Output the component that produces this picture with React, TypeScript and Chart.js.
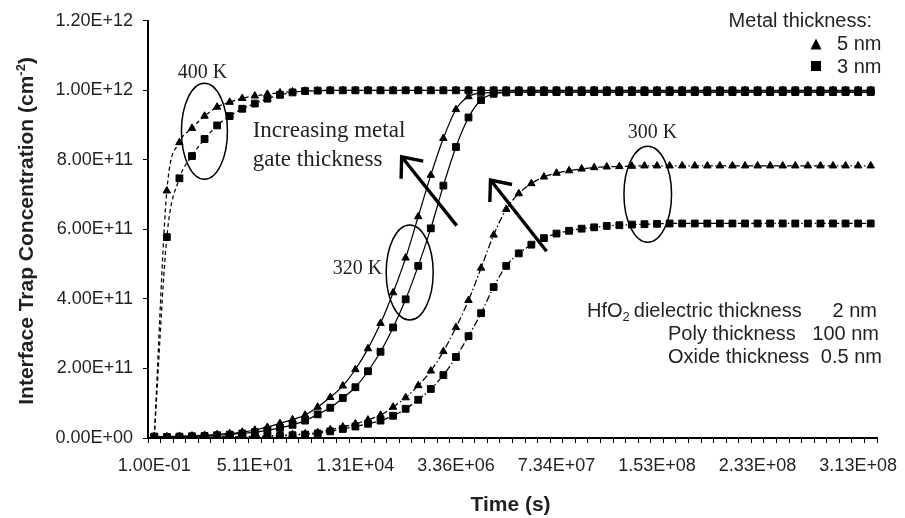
import React, { useEffect, useRef } from 'react';
import { Chart, registerables } from 'chart.js';

Chart.register(...registerables);

// Elapsed stress time (s), one category per sample
const timeLabels = [
  '1.00E-01', '3.00E-01', '7.00E-01', '1.50E+00', '3.10E+00', '6.30E+00', '1.27E+01', '2.55E+01',
  '5.11E+01', '1.02E+02', '2.05E+02', '4.10E+02', '8.19E+02', '1.64E+03', '3.28E+03', '6.55E+03',
  '1.31E+04', '2.62E+04', '5.24E+04', '1.05E+05', '2.10E+05', '4.19E+05', '8.39E+05', '1.68E+06',
  '3.36E+06', '6.71E+06', '1.34E+07', '2.34E+07', '3.34E+07', '4.34E+07', '5.34E+07', '6.34E+07',
  '7.34E+07', '8.34E+07', '9.34E+07', '1.03E+08', '1.13E+08', '1.23E+08', '1.33E+08', '1.43E+08',
  '1.53E+08', '1.63E+08', '1.73E+08', '1.83E+08', '1.93E+08', '2.03E+08', '2.13E+08', '2.23E+08',
  '2.33E+08', '2.43E+08', '2.53E+08', '2.63E+08', '2.73E+08', '2.83E+08', '2.93E+08', '3.03E+08',
  '3.13E+08', '3.23E+08',
];
const LABEL_EVERY = 8;

// Interface trap concentration, in units of 1E+12 cm^-2
const UNIT = 1e12;

const t400Metal5 = [
  0.005, 0.711, 0.850, 0.891, 0.926, 0.952, 0.966, 0.977, 0.984, 0.989, 0.993, 0.996, 0.998, 0.999,
  1.000, 1.000, 1.000, 1.000, 1.000, 1.000, 1.000, 1.000, 1.000, 1.000, 1.000, 1.000, 1.000, 1.000,
  1.000, 1.000, 1.000, 1.000, 1.000, 1.000, 1.000, 1.000, 1.000, 1.000, 1.000, 1.000, 1.000, 1.000,
  1.000, 1.000, 1.000, 1.000, 1.000, 1.000, 1.000, 1.000, 1.000, 1.000, 1.000, 1.000, 1.000, 1.000,
  1.000, 1.000,
];
const t400Metal3 = [
  0.004, 0.578, 0.747, 0.811, 0.860, 0.899, 0.926, 0.947, 0.962, 0.976, 0.987, 0.994, 0.998, 0.999,
  1.000, 1.000, 1.000, 1.000, 1.000, 1.000, 1.000, 1.000, 1.000, 1.000, 1.000, 1.000, 1.000, 1.000,
  1.000, 1.000, 1.000, 1.000, 1.000, 1.000, 1.000, 1.000, 1.000, 1.000, 1.000, 1.000, 1.000, 1.000,
  1.000, 1.000, 1.000, 1.000, 1.000, 1.000, 1.000, 1.000, 1.000, 1.000, 1.000, 1.000, 1.000, 1.000,
  1.000, 1.000,
];
const t320Metal5 = [
  0.003, 0.004, 0.005, 0.006, 0.008, 0.010, 0.013, 0.017, 0.023, 0.031, 0.042, 0.053, 0.066, 0.089,
  0.117, 0.150, 0.197, 0.257, 0.330, 0.418, 0.518, 0.637, 0.756, 0.862, 0.945, 0.982, 0.992, 0.994,
  0.995, 0.995, 0.995, 0.995, 0.995, 0.995, 0.995, 0.995, 0.995, 0.995, 0.995, 0.995, 0.995, 0.995,
  0.995, 0.995, 0.995, 0.995, 0.995, 0.995, 0.995, 0.995, 0.995, 0.995, 0.995, 0.995, 0.995, 0.995,
  0.995, 0.995,
];
const t320Metal3 = [
  0.002, 0.003, 0.004, 0.005, 0.006, 0.008, 0.010, 0.013, 0.017, 0.022, 0.029, 0.038, 0.050, 0.068,
  0.087, 0.115, 0.146, 0.192, 0.248, 0.318, 0.399, 0.495, 0.603, 0.726, 0.837, 0.922, 0.972, 0.990,
  0.994, 0.995, 0.995, 0.995, 0.995, 0.995, 0.995, 0.995, 0.995, 0.995, 0.995, 0.995, 0.995, 0.995,
  0.995, 0.995, 0.995, 0.995, 0.995, 0.995, 0.995, 0.995, 0.995, 0.995, 0.995, 0.995, 0.995, 0.995,
  0.995, 0.995,
];
const t300Metal5 = [
  0.001, 0.001, 0.002, 0.002, 0.002, 0.003, 0.003, 0.004, 0.005, 0.006, 0.008, 0.010, 0.012, 0.016,
  0.024, 0.032, 0.041, 0.052, 0.066, 0.089, 0.116, 0.151, 0.193, 0.249, 0.318, 0.396, 0.489, 0.584,
  0.658, 0.703, 0.732, 0.751, 0.762, 0.769, 0.774, 0.778, 0.780, 0.781, 0.782, 0.783, 0.783, 0.783,
  0.783, 0.783, 0.783, 0.783, 0.783, 0.783, 0.783, 0.783, 0.783, 0.783, 0.783, 0.783, 0.783, 0.783,
  0.783, 0.783,
];
const t300Metal3 = [
  0.001, 0.001, 0.001, 0.002, 0.002, 0.002, 0.003, 0.003, 0.004, 0.005, 0.006, 0.008, 0.010, 0.013,
  0.019, 0.026, 0.033, 0.041, 0.050, 0.064, 0.084, 0.110, 0.141, 0.181, 0.233, 0.293, 0.359, 0.434,
  0.495, 0.531, 0.556, 0.575, 0.588, 0.596, 0.602, 0.606, 0.610, 0.612, 0.614, 0.615, 0.616, 0.617,
  0.617, 0.617, 0.617, 0.617, 0.617, 0.617, 0.617, 0.617, 0.617, 0.617, 0.617, 0.617, 0.617, 0.617,
  0.617, 0.617,
];

// y axis range and tick spacing (cm^-2)
const Y_MIN = 0;
const Y_MAX = 1.2e12;
const Y_STEP = 0.2e12;

const INK = '#231f20';
const SANS = "'Liberation Sans', Arial, sans-serif";
const SERIF = "'Liberation Serif', 'Times New Roman', serif";

const DASH_400 = [4, 3];
const DASH_320: number[] = [];
const DASH_300 = [7, 2.5, 1.5, 2.5];

const seriesDefs = [
  { label: '400 K, 5 nm', values: t400Metal5, shape: 'triangle', dash: DASH_400 },
  { label: '400 K, 3 nm', values: t400Metal3, shape: 'rect', dash: DASH_400 },
  { label: '320 K, 5 nm', values: t320Metal5, shape: 'triangle', dash: DASH_320 },
  { label: '320 K, 3 nm', values: t320Metal3, shape: 'rect', dash: DASH_320 },
  { label: '300 K, 5 nm', values: t300Metal5, shape: 'triangle', dash: DASH_300 },
  { label: '300 K, 3 nm', values: t300Metal3, shape: 'rect', dash: DASH_300 },
];

// Annotation anchors in data space: [category index, value in 1E+12]
const ellipses = [
  { at: [3.99, 0.882], rx: 23, ry: 48 },
  { at: [20.32, 0.476], rx: 23.5, ry: 47.5 },
  { at: [39.26, 0.701], rx: 23.8, ry: 48 },
];
const tempLabels = [
  { text: '400 K', at: [3.84, 1.052] },
  { text: '320 K', at: [16.17, 0.487] },
  { text: '300 K', at: [39.64, 0.878] },
];
const trendLines = [
  { text: 'Increasing metal', at: [7.83, 0.883] },
  { text: 'gate thickness', at: [7.83, 0.8] },
];
const arrows = [
  { tip: [19.68, 0.809], tail: [24.06, 0.611] },
  { tip: [26.75, 0.742], tail: [31.21, 0.537] },
];

function sci(v: number): string {
  if (Math.abs(v) < 1e-9) return '0.00E+00';
  const e = Math.floor(Math.log10(Math.abs(v)) + 1e-9);
  const m = v / Math.pow(10, e);
  return `${m.toFixed(2)}E${e < 0 ? '-' : '+'}${String(Math.abs(e)).padStart(2, '0')}`;
}

const notesPlugin = {
  id: 'figureNotes',
  afterDatasetsDraw(chart: any) {
    const { ctx, scales } = chart;
    const px = (i: number) => scales.x.getPixelForValue(i);
    const py = (v: number) => scales.y.getPixelForValue(v * UNIT);
    ctx.save();
    ctx.strokeStyle = '#000';
    ctx.fillStyle = INK;

    // circled groups
    ctx.lineWidth = 1.5;
    ellipses.forEach((e) => {
      ctx.beginPath();
      ctx.ellipse(px(e.at[0]), py(e.at[1]), e.rx, e.ry, 0, 0, Math.PI * 2);
      ctx.stroke();
    });

    // temperature labels
    ctx.font = `20px ${SERIF}`;
    ctx.textAlign = 'center';
    ctx.textBaseline = 'middle';
    tempLabels.forEach((t) => ctx.fillText(t.text, px(t.at[0]), py(t.at[1])));

    ctx.font = `23px ${SERIF}`;
    ctx.textAlign = 'left';
    trendLines.forEach((t) => ctx.fillText(t.text, px(t.at[0]), py(t.at[1])));

    // trend arrows
    ctx.lineWidth = 3.4;
    ctx.lineCap = 'butt';
    ctx.lineJoin = 'miter';
    arrows.forEach((a) => {
      const tx = px(a.tip[0]);
      const ty = py(a.tip[1]);
      const bx = px(a.tail[0]);
      const by = py(a.tail[1]);
      const back = Math.atan2(by - ty, bx - tx);
      const len = 22;
      const spread = (40 * Math.PI) / 180;
      ctx.beginPath();
      ctx.moveTo(bx, by);
      ctx.lineTo(tx, ty);
      ctx.stroke();
      ctx.beginPath();
      ctx.moveTo(tx + Math.cos(back + spread) * len, ty + Math.sin(back + spread) * len);
      ctx.lineTo(tx, ty);
      ctx.lineTo(tx + Math.cos(back - spread) * len, ty + Math.sin(back - spread) * len);
      ctx.stroke();
    });
    ctx.restore();
  },
  afterDraw(chart: any) {
    const { ctx, chartArea } = chart;
    ctx.save();
    ctx.fillStyle = INK;

    // y axis title with superscript
    {
      const main = 'Interface Trap Concentration (cm';
      const sup = '-2';
      const tail = ')';
      const big = `bold 21px ${SANS}`;
      const small = `bold 13px ${SANS}`;
      ctx.font = big;
      const wMain = ctx.measureText(main).width;
      const wTail = ctx.measureText(tail).width;
      ctx.font = small;
      const wSup = ctx.measureText(sup).width;
      const total = wMain + wSup + wTail;
      ctx.translate(25, (chartArea.top + chartArea.bottom) / 2 + 1.5);
      ctx.rotate(-Math.PI / 2);
      ctx.textAlign = 'left';
      ctx.textBaseline = 'alphabetic';
      let x = -total / 2;
      ctx.font = big;
      ctx.fillText(main, x, 7.5);
      x += wMain;
      ctx.font = small;
      ctx.fillText(sup, x, -0.5);
      x += wSup;
      ctx.font = big;
      ctx.fillText(tail, x, 7.5);
      ctx.setTransform(1, 0, 0, 1, 0, 0);
    }

    // x axis title
    ctx.font = `bold 21px ${SANS}`;
    ctx.textAlign = 'center';
    ctx.textBaseline = 'middle';
    ctx.fillText('Time (s)', (chartArea.left + chartArea.right) / 2 - 2, 505);

    // marker key
    ctx.font = `20px ${SANS}`;
    ctx.textBaseline = 'alphabetic';
    ctx.textAlign = 'right';
    ctx.fillText('Metal thickness:', 872, 27);
    ctx.textAlign = 'left';
    ctx.fillText('5 nm', 837, 50);
    ctx.fillText('3 nm', 837, 73);
    ctx.fillStyle = '#000';
    ctx.beginPath();
    ctx.moveTo(816, 38.5);
    ctx.lineTo(821.5, 49.5);
    ctx.lineTo(810.5, 49.5);
    ctx.closePath();
    ctx.fill();
    ctx.fillRect(811, 61, 10, 10);

    // device parameters
    ctx.fillStyle = INK;
    ctx.font = `20px ${SANS}`;
    ctx.textAlign = 'left';
    let x = 587;
    ctx.fillText('HfO', x, 317);
    x += ctx.measureText('HfO').width;
    ctx.font = `13px ${SANS}`;
    ctx.fillText('2', x, 321);
    x += ctx.measureText('2').width + 4;
    ctx.font = `20px ${SANS}`;
    ctx.fillText('dielectric thickness', x, 317);
    ctx.fillText('Poly thickness', 668, 340);
    ctx.fillText('Oxide thickness', 668, 363);
    ctx.textAlign = 'right';
    ctx.fillText('2 nm', 877, 317);
    ctx.fillText('100 nm', 879, 340);
    ctx.fillText('0.5 nm', 882, 363);
    ctx.restore();
  },
};

export default function App() {
  const ref = useRef<HTMLCanvasElement>(null);

  useEffect(() => {
    const canvas = ref.current;
    if (!canvas) return;
    const datasets = seriesDefs.map((s) => ({
      label: s.label,
      data: s.values.map((v) => v * UNIT),
      borderColor: '#000',
      backgroundColor: '#000',
      borderWidth: 1.25,
      borderDash: s.dash,
      cubicInterpolationMode: 'monotone' as const,
      pointStyle: s.shape,
      pointRadius: s.shape === 'rect' ? 4.8 : 4.3,
      pointBorderWidth: 1,
      pointBackgroundColor: '#000',
      pointBorderColor: '#000',
      fill: false,
    }));

    const chart = new Chart(canvas, {
      type: 'line',
      data: { labels: timeLabels, datasets },
      options: {
        animation: false,
        responsive: false,
        devicePixelRatio: 1,
        events: [],
        layout: { padding: { left: 0, right: 28, top: 17, bottom: 0 } },
        plugins: { legend: { display: false }, tooltip: { enabled: false } },
        scales: {
          x: {
            type: 'category',
            offset: true,
            grid: {
              offset: true,
              drawOnChartArea: false,
              drawTicks: true,
              tickLength: 5,
              color: '#000',
              lineWidth: 1,
            },
            border: { display: true, color: '#000', width: 2 },
            ticks: {
              autoSkip: false,
              maxRotation: 0,
              minRotation: 0,
              padding: 12,
              color: INK,
              font: { family: SANS, size: 18 },
              callback: (_v: any, i: number) => (i % LABEL_EVERY === 0 ? timeLabels[i] : ''),
            },
            afterFit: (scale: any) => {
              scale.height = 80;
            },
          },
          y: {
            min: Y_MIN,
            max: Y_MAX,
            grid: {
              drawOnChartArea: false,
              drawTicks: true,
              tickLength: 5,
              color: '#000',
              lineWidth: 1,
            },
            border: { display: true, color: '#000', width: 2 },
            ticks: {
              stepSize: Y_STEP,
              padding: 10,
              color: INK,
              font: { family: SANS, size: 18 },
              callback: (v: any) => sci(Number(v)),
            },
            afterFit: (scale: any) => {
              scale.width = 148;
            },
          },
        },
      },
      plugins: [notesPlugin],
    } as any);

    return () => chart.destroy();
  }, []);

  return (
    <div style={{ position: 'fixed', left: 0, top: 0, width: 905, height: 518, background: '#fff' }}>
      <canvas ref={ref} width={905} height={518} style={{ display: 'block', width: 905, height: 518 }} />
    </div>
  );
}
